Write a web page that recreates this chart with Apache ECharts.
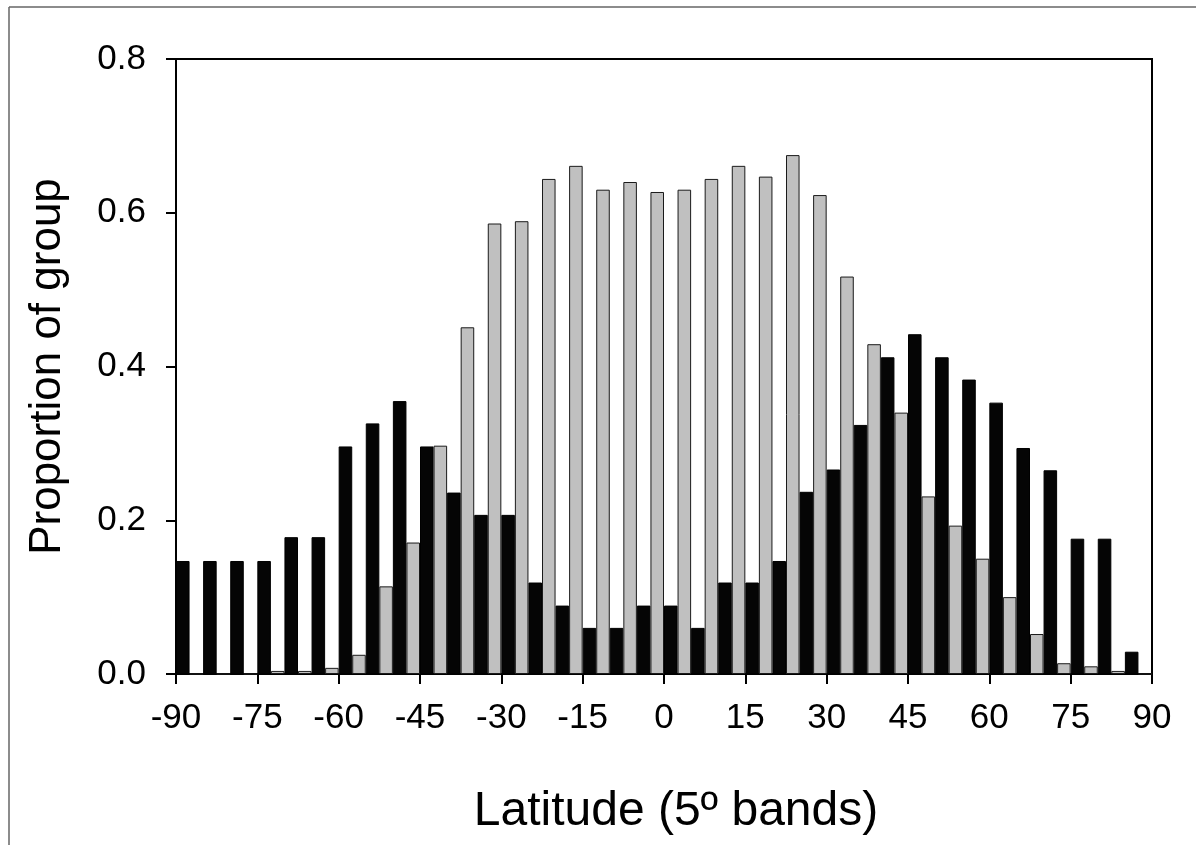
<!DOCTYPE html>
<html>
<head>
<meta charset="utf-8">
<script src="https://cdn.jsdelivr.net/npm/echarts@6/dist/echarts.min.js"></script>
<style>
html,body{margin:0;padding:0;background:#fff;}
#c{width:1196px;height:845px;}
</style>
</head>
<body>
<div id="c"></div>
<script>
// 5-degree latitude bands (band start)
const bands = [-90,-85,-80,-75,-70,-65,-60,-55,-50,-45,-40,-35,-30,-25,-20,-15,-10,-5,0,5,10,15,20,25,30,35,40,45,50,55,60,65,70,75,80,85];
const blackSeries = [0.147,0.147,0.147,0.147,0.178,0.178,0.296,0.326,0.355,0.296,0.236,0.207,0.207,0.119,0.089,0.060,0.060,0.089,0.089,0.060,0.119,0.119,0.147,0.237,0.266,0.324,0.412,0.442,0.412,0.383,0.353,0.294,0.265,0.176,0.176,0.029];
const graySeries = [0,0,0,0.004,0.004,0.008,0.025,0.114,0.171,0.297,0.451,0.586,0.589,0.644,0.661,0.630,0.640,0.627,0.630,0.644,0.661,0.647,0.675,0.623,0.517,0.429,0.340,0.231,0.193,0.150,0.100,0.052,0.014,0.010,0.004,0];
const xTickMin = -90, xTickMax = 90, xTickStep = 15;
const yMin = 0, yMax = 0.8, yStep = 0.2;
const xTitle = 'Latitude (5º bands)';
const yTitle = 'Proportion of group';

const font = 'Liberation Sans, Arial, sans-serif';
const chart = echarts.init(document.getElementById('c'), null, {renderer:'canvas'});
chart.setOption({
  animation:false,
  backgroundColor:'#fff',
  grid:{left:176,right:44,top:59,bottom:171,show:true,borderColor:'#000',borderWidth:2,backgroundColor:'transparent'},
  graphic:[
    {type:'line',shape:{x1:9,y1:7,x2:1196,y2:7},style:{stroke:'#666',lineWidth:1.5},silent:true},
    {type:'line',shape:{x1:9,y1:7,x2:9,y2:845},style:{stroke:'#666',lineWidth:1.5},silent:true}
  ],
  xAxis:[
    {type:'category',data:bands.map(String),show:false,boundaryGap:true},
    {type:'value',min:xTickMin,max:xTickMax,interval:xTickStep,position:'bottom',
     axisLine:{show:true,onZero:false,lineStyle:{color:'#000',width:2}},
     axisTick:{show:true,inside:false,length:10,lineStyle:{color:'#000',width:2}},
     axisLabel:{show:true,margin:27,color:'#000',fontSize:35,fontFamily:font},
     splitLine:{show:false},
     name:xTitle,nameLocation:'middle',nameGap:114,
     nameTextStyle:{color:'#000',fontSize:48,fontFamily:font,padding:[0,0,0,24]}}
  ],
  yAxis:{type:'value',min:yMin,max:yMax,interval:yStep,
     axisLine:{show:true,onZero:false,lineStyle:{color:'#000',width:2}},
     axisTick:{show:true,inside:false,length:10,lineStyle:{color:'#000',width:2}},
     axisLabel:{margin:30,color:'#000',fontSize:35,fontFamily:font,formatter:v=>v.toFixed(1)},
     splitLine:{show:false},
     name:yTitle,nameLocation:'middle',nameGap:106,nameRotate:90,
     nameTextStyle:{color:'#000',fontSize:44,fontFamily:font}},
  series:[
    {type:'bar',xAxisIndex:0,data:blackSeries,barGap:'0%',barCategoryGap:'0%',
     itemStyle:{color:'#050505',borderColor:'#000',borderWidth:1}},
    {type:'bar',xAxisIndex:0,data:graySeries,barGap:'0%',barCategoryGap:'0%',
     itemStyle:{color:'#c0c0c0',borderColor:'#1a1a1a',borderWidth:1}}
  ]
});
</script>
</body>
</html>
